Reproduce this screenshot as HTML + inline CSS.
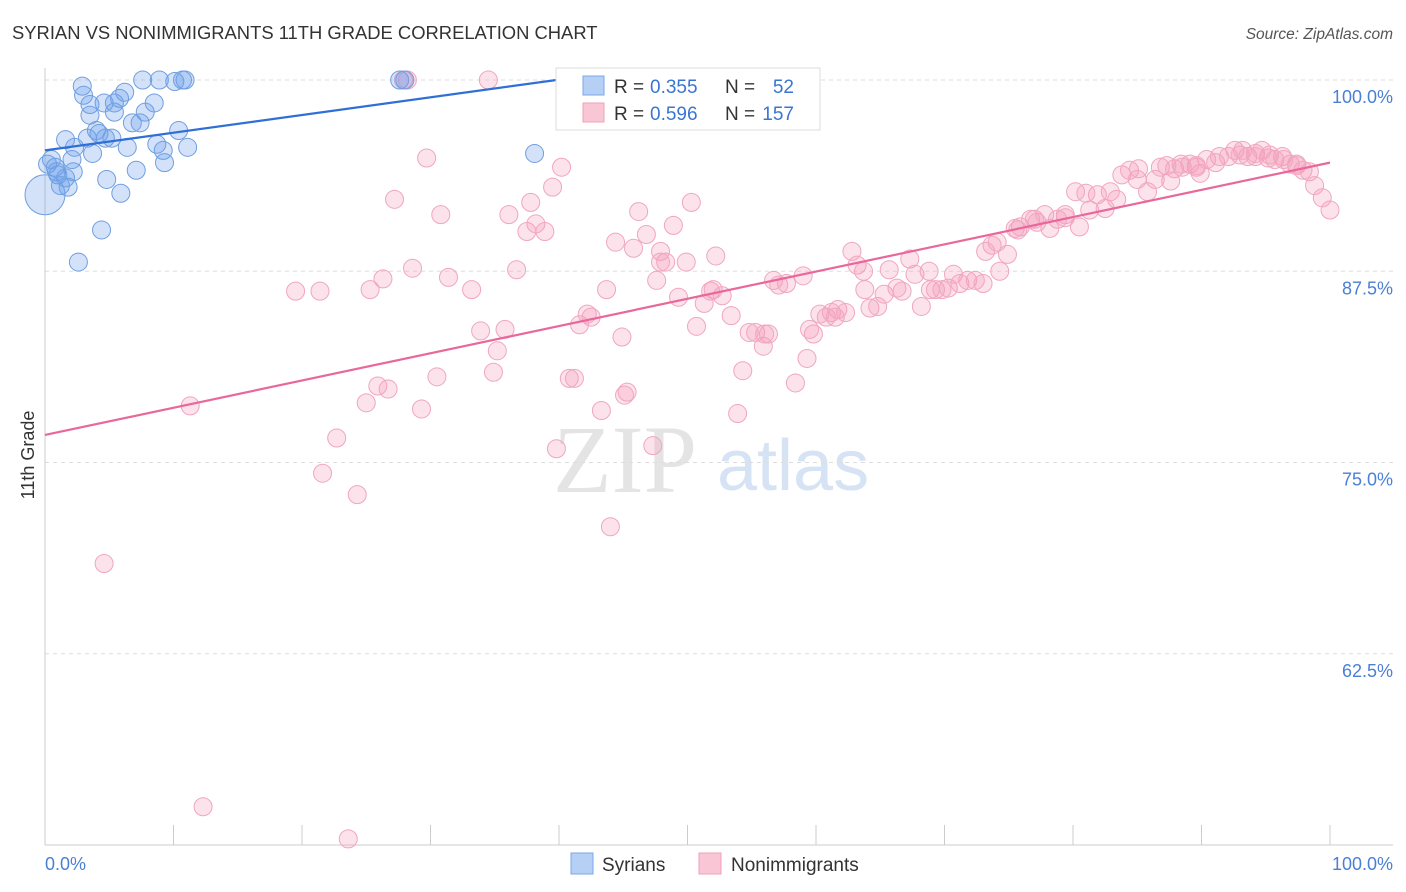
<!DOCTYPE html>
<html><head><meta charset="utf-8"><style>
body{margin:0;background:#fff;width:1406px;height:892px;overflow:hidden;font-family:"Liberation Sans",sans-serif}
svg{display:block}
</style></head><body>
<svg id="chart" width="1406" height="892">
<text x="12" y="39" font-size="18.4" fill="#333">SYRIAN VS NONIMMIGRANTS 11TH GRADE CORRELATION CHART</text>
<text x="1393" y="39" font-size="15.5" fill="#555" font-style="italic" text-anchor="end">Source: ZipAtlas.com</text>
<g>
<text x="553" y="492" font-size="96" font-family="Liberation Serif,serif" fill="#e4e4e4">ZIP</text>
<text x="717" y="490" font-size="72" fill="#d6e3f5">atlas</text>
</g>
<g id="grid"></g>
<g id="axes"></g>
<g id="pts"></g>
<g id="trends"></g>
<text transform="translate(34,455) rotate(-90)" font-size="18" fill="#333" text-anchor="middle">11th Grade</text>
<g>
<rect x="556" y="68" width="264" height="62" fill="#fff" stroke="#ddd"/>
<rect x="583" y="76" width="21" height="19" fill="#b6d0f5" stroke="#7aa8e8"/>
<text x="614" y="93" font-size="19" fill="#333">R =</text>
<text x="650" y="93" font-size="19" fill="#3a75d0">0.355</text>
<text x="725" y="93" font-size="19" fill="#333">N =</text>
<text x="794" y="93" font-size="19" fill="#3a75d0" text-anchor="end">52</text>
<rect x="583" y="103" width="21" height="19" fill="#f9c6d6" stroke="#f0a0b8"/>
<text x="614" y="120" font-size="19" fill="#333">R =</text>
<text x="650" y="120" font-size="19" fill="#3a75d0">0.596</text>
<text x="725" y="120" font-size="19" fill="#333">N =</text>
<text x="794" y="120" font-size="19" fill="#3a75d0" text-anchor="end">157</text>
</g>
<g>
<rect x="571" y="853" width="22" height="21" fill="#b6d0f5" stroke="#7aa8e8"/>
<text x="602" y="871" font-size="19" fill="#333">Syrians</text>
<rect x="699" y="853" width="22" height="21" fill="#f9c6d6" stroke="#f0a0b8"/>
<text x="731" y="871" font-size="19" fill="#333">Nonimmigrants</text>
</g>
</svg>
<script>
const yTicks=[100,87.5,75,62.5];
const yTickLabels=["100.0%","87.5%","75.0%","62.5%"];
const xTickLabels=["0.0%","100.0%"];
const blueX=[2.9,3.0,3.5,3.5,4.6,5.4,5.8,6.2,7.6,8.9,10.1,10.7,10.9,8.5,7.8,6.8,7.4,4.0,4.2,3.3,4.7,5.2,5.4,10.4,1.6,2.3,3.7,6.4,8.7,9.2,11.1,9.3,7.1,0.5,0.2,0.9,2.1,2.2,1.6,4.8,1.2,1.8,5.9,4.4,2.6,38.1,47.1,27.6,28.0,0.8,1.0,0];
const blueY=[99.6,99.0,97.7,98.4,98.5,98.5,98.8,99.2,100,100,99.9,100,100,98.5,97.9,97.2,97.2,96.7,96.5,96.2,96.2,96.2,97.9,96.7,96.1,95.6,95.2,95.6,95.8,95.4,95.6,94.6,94.1,94.8,94.5,94.0,94.8,94.0,93.6,93.5,93.1,93.0,92.6,90.2,88.1,95.2,99.8,100,100,94.3,93.8,92.5];
const pinkX=[4.6,11.3,12.3,19.5,21.4,21.6,22.7,23.6,24.3,25.0,25.3,25.9,26.3,26.7,27.2,27.9,28.2,28.6,29.3,29.7,30.5,30.8,31.4,33.2,33.9,34.5,34.9,35.2,35.8,36.1,36.7,37.5,37.8,38.2,38.9,39.5,39.8,40.2,40.8,41.2,41.6,42.2,43.3,43.7,44.0,44.4,44.9,45.3,45.8,46.2,46.8,47.3,47.6,47.9,48.3,48.9,49.3,49.9,50.3,50.7,51.3,51.8,52.2,52.7,53.4,53.9,54.3,54.8,55.3,55.9,56.3,56.7,57.1,57.7,58.4,59.0,59.3,59.8,60.3,60.8,61.2,61.7,62.3,62.8,63.2,63.7,64.2,64.8,65.3,65.7,66.3,66.7,67.3,67.7,68.2,68.8,69.3,69.8,70.3,70.7,71.2,71.8,72.4,73.0,73.7,74.1,74.3,74.9,75.5,75.9,76.7,77.2,77.8,78.2,78.8,79.4,80.2,80.5,81.3,81.9,82.5,82.9,83.4,83.8,84.4,85.1,85.8,86.4,86.8,87.3,87.9,88.5,89.1,89.6,89.9,90.4,91.1,91.4,92.1,92.6,93.0,93.6,94.2,94.7,95.2,95.7,96.3,96.9,97.4,97.9,98.4,98.8,99.4,100.0,97.4,96.4,95.3,94.2,93.2,89.6,88.4,87.6,85.0,81.0,79.4,77.0,75.7,73.2,68.9,63.8,61.5,59.5,56.0,52.0,47.9,45.1,42.5];
const pinkY=[68.4,78.7,52.5,86.2,86.2,74.3,76.6,50.4,72.9,78.9,86.3,80.0,87.0,79.8,92.2,100,100,87.7,78.5,94.9,80.6,91.2,87.1,86.3,83.6,100,80.9,82.3,83.7,91.2,87.6,90.1,92.0,90.6,90.1,93.0,75.9,94.3,80.5,80.5,84.0,84.7,78.4,86.3,70.8,89.4,83.2,79.6,89.0,91.4,89.9,76.1,86.9,88.8,88.1,90.5,85.8,88.1,92.0,83.9,85.4,86.2,88.5,85.9,84.6,78.2,81.0,83.5,83.5,82.6,83.4,86.9,86.6,86.7,80.2,87.2,81.8,83.4,84.7,84.5,84.8,85.0,84.8,88.8,87.9,87.5,85.1,85.2,86.0,87.6,86.4,86.2,88.3,87.3,85.2,87.5,86.3,86.3,86.4,87.3,86.7,86.9,86.9,86.7,89.2,89.4,87.5,88.6,90.3,90.4,90.9,90.7,91.2,90.3,90.9,91.2,92.7,90.4,91.5,92.5,91.6,92.7,92.2,93.8,94.1,94.2,92.7,93.5,94.3,94.4,94.2,94.3,94.5,94.3,93.9,94.8,94.6,95.0,95.0,95.4,95.1,95.0,95.2,95.4,94.9,94.8,95.0,94.5,94.4,94.1,94.0,93.1,92.3,91.5,94.5,94.8,95.1,95.0,95.4,94.4,94.5,93.4,93.5,92.6,91.0,90.9,90.2,88.8,86.3,86.3,84.5,83.7,83.4,86.3,88.1,79.4,84.5];
const blueTrendX=[0,39.8];
const blueTrendY=[95.4,100];
const pinkTrendX=[0,100];
const pinkTrendY=[76.8,94.6];

const NS="http://www.w3.org/2000/svg";
const X0=45,X1=1330,YTOP=80,YBOT=845;
function sx(v){return X0+(X1-X0)*v/100;}
function sy(v){return YTOP+(100-v)*(YBOT-YTOP)/50;}
function mk(tag,attrs,parent){const e=document.createElementNS(NS,tag);for(const k in attrs)e.setAttribute(k,attrs[k]);parent.appendChild(e);return e;}
const grid=document.getElementById('grid'),axes=document.getElementById('axes');
yTicks.forEach((t,i)=>{
  const l=mk('line',{x1:X0,x2:1393,y1:sy(t),y2:sy(t),stroke:'#ddd','stroke-dasharray':'4,4'},grid);
  
  
  const tx=mk('text',{x:1393,y:sy(t)+23,'font-size':18,fill:'#4a7fd6','text-anchor':'end'},axes);
  tx.textContent=yTickLabels[i];
  
  
});
const ax=mk('line',{x1:X0,x2:X0,y1:68,y2:YBOT,stroke:'#ccc'},axes);


const bx=mk('line',{x1:X0,x2:1393,y1:YBOT,y2:YBOT,stroke:'#ccc'},axes);


for(let i=1;i<=10;i++){
  const t=mk('line',{x1:sx(i*10),x2:sx(i*10),y1:YBOT-20,y2:YBOT,stroke:'#ccc'},axes);
  
  
}
[[0,'start',45],[100,'end',1393]].forEach((d,i)=>{
  const t=mk('text',{x:d[2],y:870,'font-size':18,fill:'#4a7fd6','text-anchor':d[1]},axes);
  t.textContent=xTickLabels[i];
  
  
});
const pts=document.getElementById('pts');
pinkX.forEach((x,i)=>{
  const c=mk('circle',{cx:sx(x),cy:sy(pinkY[i]),r:9,fill:'rgba(244,160,190,0.3)',stroke:'#f0a6bf','stroke-width':1},pts);
  
  
});
blueX.forEach((x,i)=>{
  const c=mk('circle',{cx:sx(x),cy:sy(blueY[i]),r:i===blueX.length-1?20:9,fill:'rgba(110,160,235,0.3)',stroke:'#6f9fe0','stroke-width':1},pts);
  
  
});
const tr=document.getElementById('trends');
const bl=mk('line',{x1:sx(blueTrendX[0]),y1:sy(blueTrendY[0]),x2:sx(blueTrendX[1]),y2:sy(blueTrendY[1]),stroke:'#2f6fd6','stroke-width':2.2},tr);


const pl=mk('line',{x1:sx(pinkTrendX[0]),y1:sy(pinkTrendY[0]),x2:sx(pinkTrendX[1]),y2:sy(pinkTrendY[1]),stroke:'#e8689a','stroke-width':2.2},tr);


</script>
</body></html>
